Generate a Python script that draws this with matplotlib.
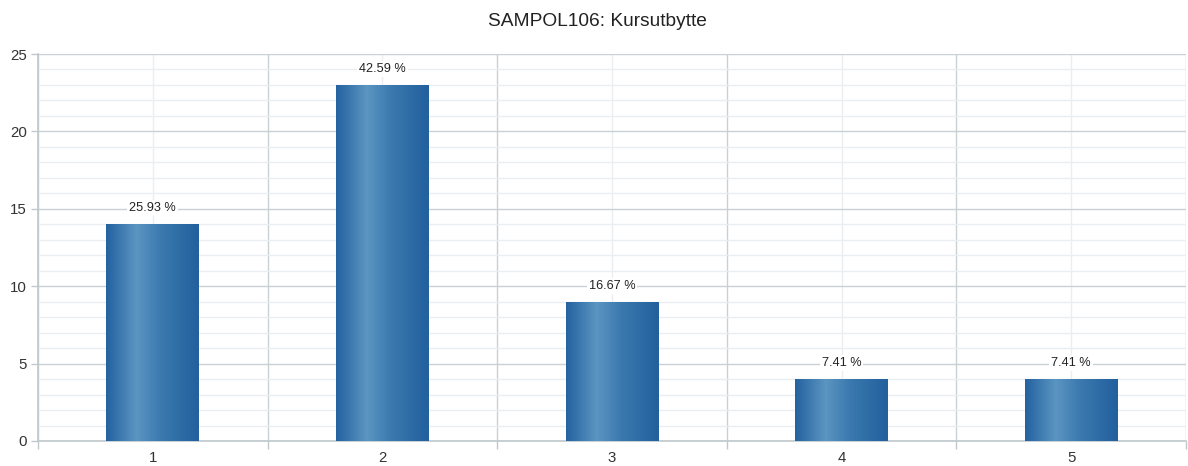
import matplotlib
matplotlib.use("Agg")
import matplotlib.pyplot as plt
import numpy as np
from matplotlib.colors import LinearSegmentedColormap

categories = ["1", "2", "3", "4", "5"]
counts = [14, 23, 9, 4, 4]
pct_labels = ["25.93 %", "42.59 %", "16.67 %", "7.41 %", "7.41 %"]

plt.rcParams["font.family"] = ["Liberation Sans", "DejaVu Sans"]

fig = plt.figure(figsize=(11.88, 4.66), dpi=100)
ax = fig.add_axes([38/1188, 25/466, (1186-38)/1188, (441-54)/466])

x = np.arange(1, len(categories)+1)
bars = ax.bar(x, counts, width=0.405, color="none", edgecolor="none", zorder=3)

# horizontal gradient inside each bar
cmap = LinearSegmentedColormap.from_list("barblue", [
    (0.0, "#2462a0"), (0.33, "#5b95c1"), (0.6, "#3a78ae"), (1.0, "#22609e")])
grad = np.linspace(0, 1, 256).reshape(1, -1)
for b in bars:
    x0, w, h = b.get_x(), b.get_width(), b.get_height()
    im = ax.imshow(grad, cmap=cmap, aspect="auto", extent=(x0, x0+w, 0, h),
                   zorder=3, interpolation="bilinear")
    im.set_clip_path(b)

for xi, c, lab in zip(x, counts, pct_labels):
    ax.text(xi, c + 0.65, lab, ha="center", va="bottom", fontsize=9.2, color="#222222",
            bbox=dict(facecolor="white", edgecolor="none", pad=1.5), zorder=4)

ax.set_xlim(0.5, len(categories)+0.5)
ax.set_ylim(0, 25)
ax.set_yticks(range(0, 26, 5))
ax.set_yticks(range(0, 26, 1), minor=True)
ax.set_xticks(np.arange(0.5, len(categories)+1, 1))
ax.set_xticklabels([])
ax.set_xticks(x, minor=True)
ax.set_xticklabels(categories, minor=True)

ax.grid(which="major", color="#c9d1d5", linewidth=1.0, zorder=0)
ax.grid(which="minor", color="#eaeef0", linewidth=1.0, zorder=0)
ax.set_axisbelow(True)

ax.tick_params(axis="x", which="major", length=6, color="#c0c8cc", width=1)
ax.tick_params(axis="x", which="minor", length=0, labelsize=10.8, labelcolor="#333333", pad=7)
ax.tick_params(axis="y", which="major", length=5, color="#c0c8cc", width=1,
               labelsize=10.8, labelcolor="#333333", pad=3)
ax.tick_params(axis="y", which="minor", length=0)

for s in ["top", "right"]:
    ax.spines[s].set_visible(False)
for s in ["left", "bottom"]:
    ax.spines[s].set_color("#c0c8cc")
    ax.spines[s].set_linewidth(1.2)

fig.text(0.503, 1 - 22/466, "SAMPOL106: Kursutbytte", ha="center", va="center",
         fontsize=13.8, color="#222222")

fig.savefig("out.png", dpi=100)
